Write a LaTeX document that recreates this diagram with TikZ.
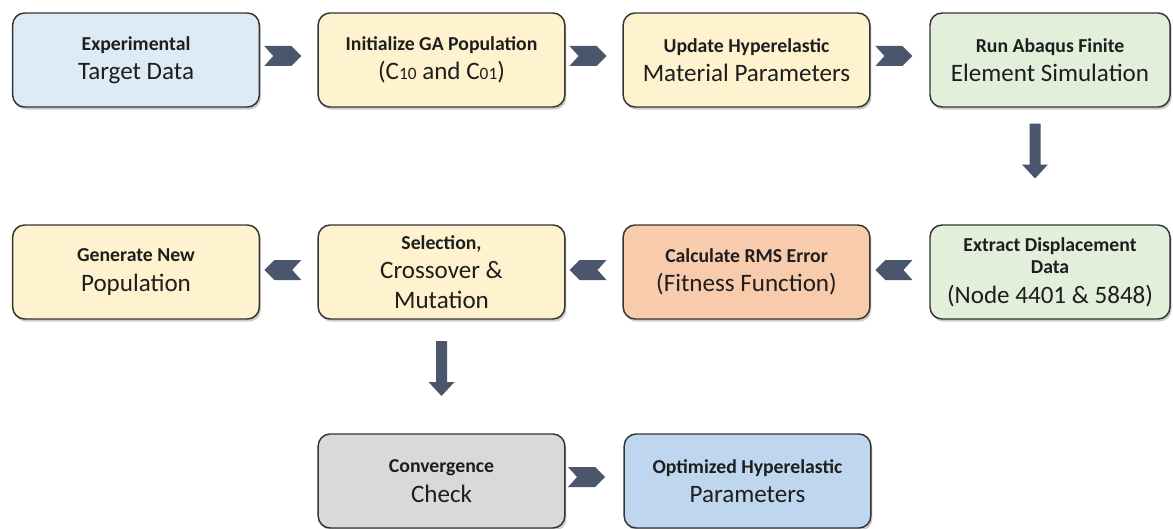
\documentclass[tikz,border=0pt]{standalone}
\usepackage{fontspec}
\setmainfont{Carlito}
\usepackage{xcolor}
\definecolor{boxblue}{RGB}{221, 235, 247}
\definecolor{boxyellow}{RGB}{255, 242, 206}
\definecolor{boxgreen}{RGB}{226, 239, 218}
\definecolor{boxorange}{RGB}{248, 203, 173}
\definecolor{boxgray}{RGB}{217, 217, 217}
\definecolor{boxsky}{RGB}{191, 215, 238}
\definecolor{edgegray}{RGB}{52, 52, 52}
\definecolor{arrowslate}{RGB}{74, 86, 108}
\definecolor{textdark}{RGB}{30, 30, 30}
\usepackage{tikz}
\usetikzlibrary{calc, shadows}

\newcommand{\hd}[1]{{\bfseries\fontsize{14.8}{17}\selectfont #1}}
\newcommand{\sm}[1]{{\fontsize{13}{15}\selectfont #1}}

\tikzset{
    chevron/.pic={\fill[arrowslate] (-18.5,10) -- (8.5,10) -- (18.5,0) -- (8.5,-10) -- (-18.5,-10) -- (-9.5,0) -- cycle;},
    downarrow/.pic={\fill[arrowslate] (-5.5,27.5) -- (5.5,27.5) -- (5.5,-13.5) -- (13,-13.5) -- (0,-27.5) -- (-13,-13.5) -- (-5.5,-13.5) -- cycle;}
}

\begin{document}
\begin{tikzpicture}[x=0.75pt, y=0.75pt,
    stage/.style={draw=edgegray, line width=1.1pt, rounded corners=9pt,
        minimum width=185pt, minimum height=70.5pt, inner sep=2pt,
        align=center, text=textdark, font=\fontsize{18.8}{22}\selectfont,
        drop shadow={shadow xshift=1.2pt, shadow yshift=-2pt, opacity=0.4}}]
    \useasboundingbox (0,0) rectangle (1173,-528);

    % first row
    \node[stage, fill=boxblue] (target) at (136,-60) {\hd{Experimental}\\Target Data};
    \node[stage, fill=boxyellow] (init) at (441.5,-60) {\hd{Initialize GA Population}\\(C\sm{10} and C\sm{01})};
    \node[stage, fill=boxyellow] (update) at (746.5,-60) {\hd{Update Hyperelastic}\\Material Parameters};
    \node[stage, fill=boxgreen, minimum width=180pt] (abaqus) at (1050,-60) {\hd{Run Abaqus Finite}\\Element Simulation};

    % second row
    \node[stage, fill=boxgreen, minimum width=180pt] (extract) at (1050,-272) {\hd{Extract Displacement}\\[-5pt]\hd{Data}\\(Node 4401 \& 5848)};
    \node[stage, fill=boxorange] (rms) at (746.5,-272) {\hd{Calculate RMS Error}\\(Fitness Function)};
    \node[stage, fill=boxyellow] (select) at (441.5,-272) {\hd{Selection,}\\Crossover \&\\Mutation};
    \node[stage, fill=boxyellow] (newpop) at (136,-272) {\hd{Generate New}\\Population};

    % third row
    \node[stage, fill=boxgray] (conv) at (441.5,-481) {\hd{Convergence}\\Check};
    \node[stage, fill=boxsky] (optim) at (747.5,-481) {\hd{Optimized Hyperelastic}\\Parameters};

    % arrows
    \pic at ($(target.east)!0.5!(init.west)+(-6,4)$) {chevron};
    \pic at ($(init.east)!0.5!(update.west)+(-6,4)$) {chevron};
    \pic at ($(update.east)!0.5!(abaqus.west)+(-6,4)$) {chevron};
    \pic at ($(abaqus.south)!0.5!(extract.north)+(-15,15)$) {downarrow};
    \pic[xscale=-1] at ($(extract.west)!0.5!(rms.east)+(-6,2)$) {chevron};
    \pic[xscale=-1] at ($(rms.west)!0.5!(select.east)+(-6,2)$) {chevron};
    \pic[xscale=-1] at ($(select.west)!0.5!(newpop.east)+(-6,2)$) {chevron};
    \pic at ($(select.south)!0.5!(conv.north)+(0,8)$) {downarrow};
    \pic at ($(conv.east)!0.5!(optim.west)+(-8,4)$) {chevron};
\end{tikzpicture}
\end{document}
